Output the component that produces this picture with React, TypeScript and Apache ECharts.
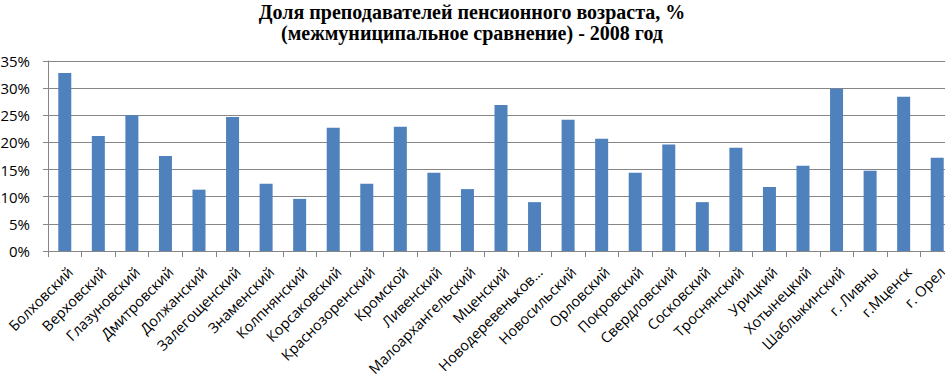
import React, { useEffect, useRef } from "react";
import * as echarts from "echarts";

const titleLines = [
  "Доля преподавателей пенсионного возраста, %",
  "(межмуниципальное сравнение) - 2008 год",
];

const categories = [
  "Болховский",
  "Верховский",
  "Глазуновский",
  "Дмитровский",
  "Должанский",
  "Залегощенский",
  "Знаменский",
  "Колпнянский",
  "Корсаковский",
  "Краснозоренский",
  "Кромской",
  "Ливенский",
  "Малоархангельский",
  "Мценский",
  "Новодеревеньков...",
  "Новосильский",
  "Орловский",
  "Покровский",
  "Свердловский",
  "Сосковский",
  "Троснянский",
  "Урицкий",
  "Хотынецкий",
  "Шаблыкинский",
  "г. Ливны",
  "г.Мценск",
  "г. Орел",
];

const values = [
  32.8, 21.2, 25.0, 17.5, 11.3, 24.7, 12.4, 9.6, 22.7, 12.4, 22.9, 14.4, 11.4,
  26.9, 9.0, 24.2, 20.7, 14.4, 19.6, 9.0, 19.0, 11.8, 15.7, 29.9, 14.8, 28.4,
  17.2,
];

const yTicks = { min: 0, max: 35, interval: 5 };

export default function App() {
  const ref = useRef<HTMLDivElement>(null);
  useEffect(() => {
    if (!ref.current) return;
    const chart = echarts.init(ref.current, null, { renderer: "svg" });
    chart.setOption({
      animation: false,
      backgroundColor: "#ffffff",
      title: {
        text: titleLines.join("\n"),
        left: 472,
        textAlign: "center",
        top: 1,
        padding: 0,
        textStyle: {
          fontFamily: "'Liberation Serif', 'Times New Roman', serif",
          fontWeight: "bold",
          fontSize: 20,
          lineHeight: 21,
          color: "#000000",
        },
      },
      grid: {
        left: 48,
        right: -9,
        top: 61,
        bottom: 131,
        containLabel: false,
        outerBoundsMode: "none",
      },
      xAxis: {
        type: "category",
        data: categories,
        axisLine: { lineStyle: { color: "#868686", width: 1 } },
        axisTick: { show: true, length: 6, lineStyle: { color: "#868686" } },
        axisLabel: {
          interval: 0,
          rotate: 45,
          margin: 13,
          verticalAlign: "top",
          fontFamily: "'Open Sans', sans-serif",
          fontSize: 14.5,
          color: "#000000",
        },
      },
      yAxis: {
        type: "value",
        min: yTicks.min,
        max: yTicks.max,
        interval: yTicks.interval,
        axisLine: { show: true, lineStyle: { color: "#868686", width: 1 } },
        axisTick: { show: true, length: 5, inside: false, lineStyle: { color: "#868686" } },
        splitLine: { show: true, lineStyle: { color: "#868686", width: 1 } },
        axisLabel: {
          formatter: (v: number) => `${v}%`,
          margin: 18,
          fontFamily: "'Open Sans', sans-serif",
          fontSize: 15,
          color: "#000000",
        },
      },
      series: [
        {
          type: "bar",
          data: values,
          barWidth: 13,
          itemStyle: { color: "#4F81BD" },
        },
      ],
    });
    return () => chart.dispose();
  }, []);
  return (
    <div
      ref={ref}
      style={{ position: "absolute", left: 0, top: 0, width: 945, height: 382 }}
    />
  );
}
